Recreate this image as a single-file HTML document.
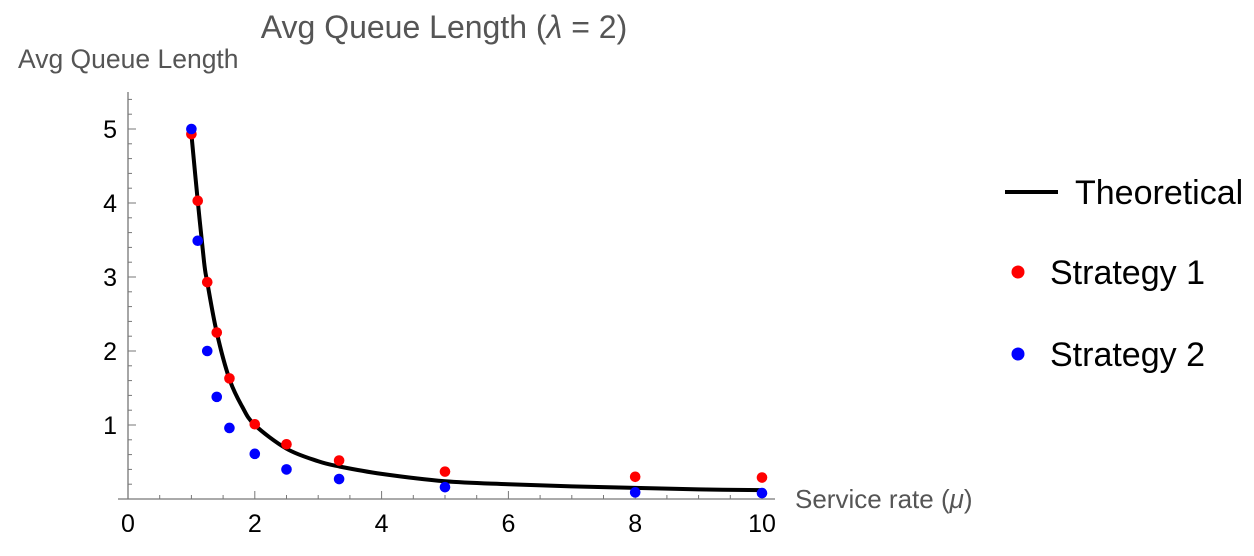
<!DOCTYPE html>
<html><head><meta charset="utf-8"><style>
body{margin:0;background:#fff;}
svg{display:block;font-family:"Liberation Sans",sans-serif;}
</style></head><body>
<svg id="chart" width="1254" height="556">
<text x="444" y="38" text-anchor="middle" font-size="32" fill="#555">Avg Queue Length (<tspan font-style="italic">λ</tspan> = 2)</text>
<text x="18" y="68" font-size="26.5" fill="#555">Avg Queue Length</text>
<text x="795" y="508" font-size="26" fill="#555">Service rate (<tspan font-style="italic">μ</tspan>)</text>
<g id="axes"></g>
<g id="marks"></g>
<g>
<line x1="1005" y1="192" x2="1058" y2="192" stroke="#000" stroke-width="4"/>
<text x="1075" y="204" font-size="34">Theoretical</text>
<circle cx="1018" cy="272" r="6.5" fill="#f00"/>
<text x="1050" y="284" font-size="34">Strategy 1</text>
<circle cx="1018" cy="354" r="6.5" fill="#00f"/>
<text x="1050" y="366" font-size="34">Strategy 2</text>
</g>
</svg>
<script>
const muPoints=[1,1.1,1.25,1.4,1.6,2,2.5,3.33,5,8,10];
const strategy1=[4.93,4.03,2.93,2.25,1.63,1.01,0.74,0.52,0.37,0.3,0.29];
const strategy2=[5.0,3.49,2.0,1.38,0.96,0.61,0.4,0.27,0.16,0.09,0.08];
const curveMu=[1,1.1,1.2,1.25,1.4,1.6,1.8,2,2.5,3,3.33,4,5,6,7,8,9,10];
const curveVal=[4.93,4.03,3.2,2.93,2.25,1.62,1.25,1.0,0.68,0.51,0.44,0.34,0.24,0.2,0.17,0.15,0.13,0.12];
const xTicks=[0,2,4,6,8,10];
const yTicks=[1,2,3,4,5];
const X=v=>128+v*63.4, Y=v=>499-v*74;
const NS="http://www.w3.org/2000/svg";
const axes=document.getElementById('axes'), marks=document.getElementById('marks');
function mk(t,a,p){const e=document.createElementNS(NS,t);for(const k in a)e.setAttribute(k,a[k]);p.appendChild(e);return e;}
let e=mk('line',{x1:118,y1:499,x2:775,y2:499,stroke:'#777','stroke-width':1.3},axes);


e=mk('line',{x1:128,y1:92,x2:128,y2:499,stroke:'#777','stroke-width':1.3},axes);


for(let v=0;v<=10.41;v+=0.5){const x=X(v);const major=Math.abs(v/2-Math.round(v/2))<0.01;mk('line',{x1:x,y1:499,x2:x,y2:major?491:495,stroke:'#777'},axes);}
for(let v=0.2;v<=5.41;v+=0.2){const y=Y(v);const major=Math.abs(v-Math.round(v))<0.01;mk('line',{x1:128,y1:y,x2:major?136:132,y2:y,stroke:'#777'},axes);}
xTicks.forEach(v=>{const t=mk('text',{x:X(v),y:532,'text-anchor':'middle','font-size':25},axes);t.textContent=v;

});
yTicks.forEach(v=>{const t=mk('text',{x:117,y:Y(v)+9,'text-anchor':'end','font-size':25},axes);t.textContent=v;

});
const pts=curveMu.map((m,i)=>[X(m),Y(curveVal[i])]);
let d='M'+pts[0][0]+','+pts[0][1];
for(let i=0;i<pts.length-1;i++){const p0=pts[Math.max(0,i-1)],p1=pts[i],p2=pts[i+1],p3=pts[Math.min(pts.length-1,i+2)];
d+=' C'+(p1[0]+(p2[0]-p0[0])/6)+','+(p1[1]+(p2[1]-p0[1])/6)+' '+(p2[0]-(p3[0]-p1[0])/6)+','+(p2[1]-(p3[1]-p1[1])/6)+' '+p2[0]+','+p2[1];}
e=mk('path',{d:d,fill:'none',stroke:'#000','stroke-width':4},marks);


muPoints.forEach((m,i)=>{let c=mk('circle',{cx:X(m),cy:Y(strategy1[i]),r:5.3,fill:'#f00'},marks);


c=mk('circle',{cx:X(m),cy:Y(strategy2[i]),r:5.3,fill:'#00f'},marks);

});
</script>
</body></html>
